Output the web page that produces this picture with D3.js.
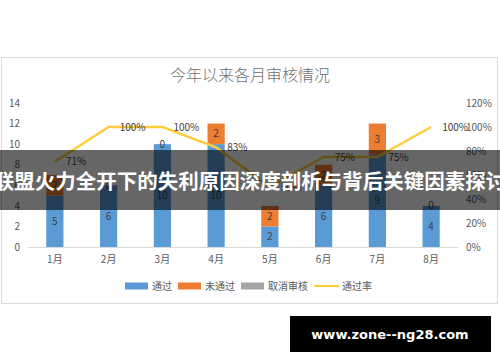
<!DOCTYPE html>
<html>
<head>
  <meta charset='utf-8'>
  <style>
  body { margin: 0; background: #fff; }
  text { font-family: 'Noto Sans CJK SC', 'Noto Sans', sans-serif; }
  .axis text { fill: #595959; font-size: 10px; }
  .axis--y path, .axis--r path { display: none; }
  .axis--x path { stroke: #d9d9d9; }
  .label { fill: #404040; font-size: 10px; text-anchor: middle; }
  </style>
</head>
<body>
<script src='https://d3js.org/d3.v7.min.js'></script>
<script>

var months = ['1月', '2月', '3月', '4月', '5月', '6月', '7月', '8月'];
var passed = [5, 6, 10, 10, 2, 6, 9, 4];
var failed = [2, 0, 0, 2, 2, 2, 3, 0];
var cancelled = [0, 0, 0, 0, 0, 0, 0, 0];
var passRate = [0.71, 1.00, 1.00, 0.83, 0.50, 0.75, 0.75, 1.00];
var leftTicks = [0, 2, 4, 6, 8, 10, 12, 14];
var rightTicks = [0, 0.2, 0.4, 0.6, 0.8, 1.0, 1.2];
var seriesNames = ['通过', '未通过', '取消审核', '通过率'];
var colors = ['#5b9bd5', '#ed7d31', '#a5a5a5', '#ffcd3c'];

var svg = d3.select('body').append('svg')
    .attr('width', 500)
    .attr('height', 362);

var plot = {left: 28, right: 458, top: 103, bottom: 247};

// chart frame
svg.append('rect')
    .attr('x', 1.5).attr('y', 57.5)
    .attr('width', 496).attr('height', 246)
    .attr('fill', '#fff')
    .attr('stroke', '#d9d9d9');

svg.append('text')
    .attr('x', 250).attr('y', 75)
    .attr('dy', '0.35em')
    .attr('text-anchor', 'middle')
    .attr('fill', '#707070')
    .style('font-size', '16px')
    .style('font-weight', '300')
    .text('今年以来各月审核情况');

var x = d3.scaleBand()
    .domain(months)
    .range([plot.left, plot.right])
    .paddingInner(0.68)
    .paddingOuter(0.34);

var y = d3.scaleLinear().domain([0, 14]).range([plot.bottom, plot.top]);
var yr = d3.scaleLinear().domain([0, 1.2]).range([plot.bottom, plot.top]);

var data = months.map(function(m, i) {
  return {month: m, pass: passed[i], fail: failed[i], cancel: cancelled[i], rate: passRate[i]};
});

var stack = d3.stack().keys(['pass', 'fail', 'cancel']);
var layers = stack(data);

svg.append('g')
    .attr('class', 'axis axis--y')
    .attr('transform', 'translate(' + plot.left + ',0)')
    .call(d3.axisLeft(y).tickValues(leftTicks).tickSize(0).tickPadding(8));

svg.append('g')
    .attr('class', 'axis axis--r')
    .attr('transform', 'translate(' + plot.right + ',0)')
    .call(d3.axisRight(yr).tickValues(rightTicks).tickSize(0).tickPadding(8).tickFormat(d3.format('.0%')));

svg.append('g')
    .attr('class', 'axis axis--x')
    .attr('transform', 'translate(0,' + plot.bottom + ')')
    .call(d3.axisBottom(x).tickSize(0).tickPadding(9));

svg.selectAll('.axis text').attr('fill', '#595959').style('font-size', '10px');

var layer = svg.selectAll('.layer')
    .data(layers)
  .enter().append('g')
    .attr('class', 'layer')
    .attr('fill', function(d, i) { return colors[i]; });

layer.selectAll('rect')
    .data(function(d) { return d; })
  .enter().append('rect')
    .attr('x', function(d) { return x(d.data.month); })
    .attr('y', function(d) { return y(d[1]); })
    .attr('width', x.bandwidth())
    .attr('height', function(d) { return y(d[0]) - y(d[1]); });

// segment labels for pass and fail (a zero fail value sits on the bar top)
layers.slice(0, 2).forEach(function(l) {
  svg.append('g').selectAll('text')
      .data(l)
    .enter().append('text')
      .attr('class', 'label')
      .attr('x', function(d) { return x(d.data.month) + x.bandwidth() / 2; })
      .attr('y', function(d) { return (y(d[0]) + y(d[1])) / 2; })
      .attr('dy', '0.35em')
      .text(function(d) { return d[1] - d[0]; });
});

var cx = function(d) { return x(d.month) + x.bandwidth() / 2; };

var line = d3.line()
    .x(cx)
    .y(function(d) { return yr(d.rate); });

svg.append('path')
    .datum(data)
    .attr('fill', 'none')
    .attr('stroke', colors[3])
    .attr('stroke-width', 2.5)
    .attr('d', line);

svg.append('g').selectAll('text')
    .data(data)
  .enter().append('text')
    .attr('class', 'label')
    .style('text-anchor', 'start')
    .attr('x', function(d) { return cx(d) + 11; })
    .attr('y', function(d) { return yr(d.rate); })
    .attr('dy', '0.35em')
    .text(function(d) { return d3.format('.0%')(d.rate); });

// legend
var legendX = [125, 178, 241, 314];
var legend = svg.append('g').selectAll('g')
    .data(seriesNames)
  .enter().append('g')
    .attr('transform', function(d, i) { return 'translate(' + legendX[i] + ',286)'; });

legend.append('rect')
    .attr('y', function(d, i) { return i === 3 ? -1 : -3.5; })
    .attr('width', function(d, i) { return i === 3 ? 25 : 23; })
    .attr('height', function(d, i) { return i === 3 ? 2 : 7; })
    .attr('fill', function(d, i) { return colors[i]; });

legend.append('text')
    .attr('x', function(d, i) { return i === 3 ? 28 : 27; })
    .attr('dy', '0.35em')
    .attr('fill', '#595959')
    .style('font-size', '10px')
    .text(function(d) { return d; });

// overlay banner
svg.append('rect')
    .attr('x', 0).attr('y', 150)
    .attr('width', 500).attr('height', 60)
    .attr('fill', 'rgba(0,0,0,0.6)');

svg.append('text')
    .attr('x', 250).attr('y', 182)
    .attr('dy', '0.35em')
    .attr('text-anchor', 'middle')
    .attr('fill', '#fff')
    .style('font-size', '20.5px')
    .style('font-weight', 'bold')
    .text('联盟火力全开下的失利原因深度剖析与背后关键因素探讨');

// watermark
svg.append('rect')
    .attr('x', 290).attr('y', 316)
    .attr('width', 201).attr('height', 36)
    .attr('fill', '#000');

svg.append('text')
    .attr('x', 390).attr('y', 334)
    .attr('dy', '0.35em')
    .attr('text-anchor', 'middle')
    .attr('fill', '#fff')
    .style('font-family', 'DejaVu Sans, sans-serif')
    .style('font-size', '13px')
    .style('font-weight', 'bold')
    .text('www.zone--ng28.com');

</script>
</body>
</html>
